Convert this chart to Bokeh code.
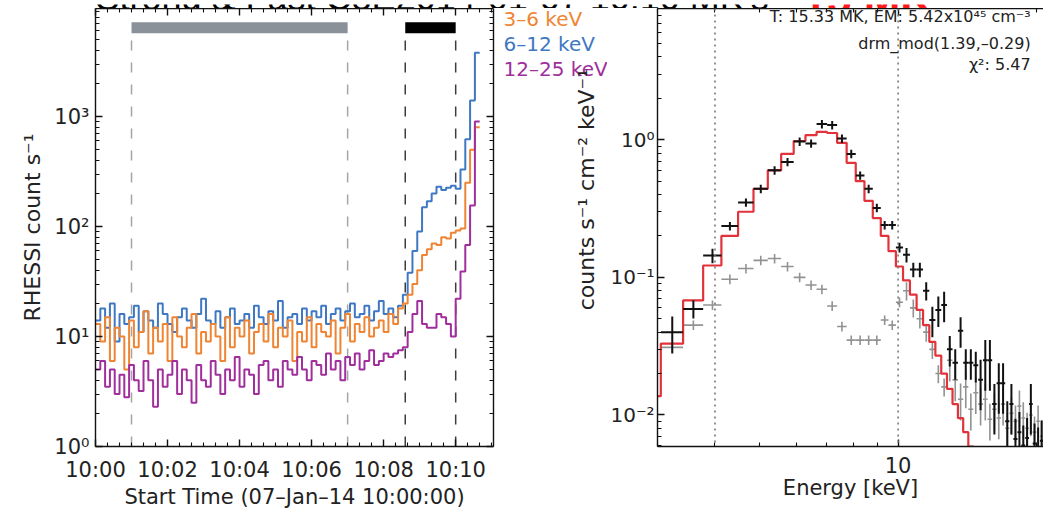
import numpy as np
from bokeh.plotting import figure
from bokeh.models import (Range1d, FixedTicker, LinearAxis, LogAxis, Span, Label,
                          CustomJSTickFormatter)
from bokeh.core.properties import value
from bokeh.layouts import row, column
from bokeh.embed import file_html
from bokeh.resources import INLINE

FONT = "DejaVu Sans"
TITLE_FONT = "Liberation Sans"

# ------------------------------------------------------------------ data: light curves
bin_seconds = 8
counts_3_6 = [13, 9, 15, 6, 12, 10, 5, 14, 8, 11, 17, 7, 12, 9, 13, 6,
              15, 10, 8, 12, 16, 7, 11, 9, 13, 10, 6, 15, 8, 12, 10, 14,
              7, 11, 13, 9, 16, 8, 12, 10, 14, 6, 11, 9, 15, 8, 13, 11,
              10, 14, 7, 12, 16, 9, 13, 11, 15, 10, 12, 14, 11, 16, 13, 18,
              20, 24, 30, 40, 55, 62, 70, 68, 80, 78, 88, 92, 96, 250, 500, 800]
counts_6_12 = [14, 18, 12, 20, 9, 16, 13, 15, 19, 11, 17, 14, 12, 20, 16, 13,
               11, 15, 18, 14, 12, 16, 22, 14, 13, 17, 12, 15, 18, 13, 14, 16,
               12, 19, 15, 13, 17, 14, 21, 12, 15, 16, 13, 18, 14, 17, 15, 19,
               13, 16, 18, 14, 17, 20, 15, 16, 19, 14, 17, 21, 16, 18, 15, 19,
               24, 38, 60, 90, 150, 170, 200, 230, 215, 225, 235, 220, 330, 620, 1400, 3800]
counts_12_25 = [5, 6, 3.5, 5, 3, 4.5, 2.8, 5.5, 4, 3.2, 6, 4, 2.3, 5, 3.5, 4.5,
                6, 3, 5, 4, 2.5, 5.5, 4, 3.5, 6, 4.5, 3, 5, 4, 6.5, 3.5, 5,
                4.5, 3, 5.5, 6, 4, 5, 3.5, 6, 5, 4.5, 6.5, 5, 4, 6, 5.5, 4.5,
                7, 5, 6, 4, 6.5, 5.5, 7, 5, 6, 7.5, 5.5, 6, 7, 6.5, 7, 7.5,
                8, 11, 16, 21, 13, 12, 12, 16, 15, 13, 10, 22, 39, 68, 155, 900]
series_names = ["3–6 keV", "6–12 keV", "12–25 keV"]
series_colors = ["#ef8432", "#3e78c2", "#a02e9c"]
time_tick_seconds = [0, 120, 240, 360, 480, 600]
time_tick_labels = ["10:00", "10:02", "10:04", "10:06", "10:08", "10:10"]
interval_start = [60, 516]
interval_end = [420, 600]
interval_colors = ["#8b9199", "#000000"]
marker_times = [60, 420, 516, 600]
marker_colors = ["#a5a5a5", "#a5a5a5", "#3c3c3c", "#3c3c3c"]

# ------------------------------------------------------------------ data: spectrum
energy_bin_start = 3.05
energy_bin_width = 0.36
obs_flux = [0.040, 0.059, 0.144, 0.236, 0.35, 0.44, 0.60, 0.69, 0.97, 0.94,
            1.30, 1.28, 1.02, 0.79, 0.55, 0.44, 0.32, 0.24, 0.24, 0.165,
            0.146, 0.114, 0.114, 0.080, 0.049, 0.058, 0.063, 0.030, 0.024, 0.041,
            0.024, 0.024, 0.023, 0.018, 0.025, 0.025, 0.012, 0.017, 0.017, 0.009,
            0.012, 0.0067, 0.0075, 0.006, 0.0068, 0.012, 0.0062, 0.0058, 0.0065]
obs_rel_err = [0.30, 0.15, 0.12, 0.07, 0.07, 0.07, 0.07, 0.07, 0.07, 0.07,
               0.07, 0.07, 0.07, 0.07, 0.07, 0.07, 0.07, 0.07, 0.07, 0.08,
               0.12, 0.12, 0.12, 0.15, 0.25, 0.25, 0.25, 0.25, 0.25, 0.25,
               0.25, 0.25, 0.25, 0.40, 0.40, 0.40, 0.40, 0.40, 0.40, 0.40,
               0.40, 0.40, 0.40, 0.40, 0.40, 0.40, 0.40, 0.40, 0.40]
bkg_flux = [0.031, 0.045, 0.063, 0.097, 0.116, 0.133, 0.137, 0.12, 0.10, 0.088,
            0.082, 0.062, 0.044, 0.035, 0.035, 0.035, 0.035, 0.049, 0.045, 0.066,
            0.080, 0.06, 0.05, 0.04, 0.03, 0.02, 0.016, 0.025, 0.018, 0.013,
            0.016, 0.011, 0.0145, 0.012, 0.013, 0.0093, 0.011, 0.0095, 0.012, 0.008,
            0.0103, 0.009, 0.0116, 0.0095, 0.008, 0.01, 0.0075, 0.009, 0.007]
bkg_rel_err = [0.08] * 20 + [0.15] * 7 + [0.30] * 22
model_first_bin = -1
model_flux = [0.0137, 0.033, 0.068, 0.122, 0.20, 0.30, 0.44, 0.60, 0.79, 0.98,
              1.08, 1.14, 1.12, 0.95, 0.68, 0.50, 0.36, 0.27, 0.20, 0.155,
              0.12, 0.095, 0.075, 0.058, 0.045, 0.034, 0.027, 0.020, 0.0155, 0.012,
              0.0095, 0.0075, 0.0059, 0.0046, 0.0036]
fit_range_keV = [4, 10]
fit_text = ["T: 15.33 MK, EM: 5.42x10⁴⁵ cm⁻³", "drm_mod(1.39,–0.29)", "χ²: 5.47"]
title_black = "Strong & Fast C8E2014-01-07 10:10 MK's"
title_red = "15 MK"
spec_ylabel = "counts s⁻¹ cm⁻² keV⁻¹"

# ------------------------------------------------------------------ helpers
SUP_JS = """
const e = Math.round(Math.log10(tick));
const sup = {'-':'\u207b','0':'\u2070','1':'\u00b9','2':'\u00b2','3':'\u00b3','4':'\u2074',
             '5':'\u2075','6':'\u2076','7':'\u2077','8':'\u2078','9':'\u2079'};
return '10' + String(e).split('').map(c => sup[c]).join('');
"""


def log_minor(lo_exp, hi_exp):
    return [m * 10.0 ** e for e in range(lo_exp, hi_exp + 1) for m in range(2, 10)]


def style_axis(ax, size="21px"):
    ax.major_tick_in = 7
    ax.major_tick_out = 0
    ax.minor_tick_in = 4
    ax.minor_tick_out = 0
    ax.axis_line_width = 1.4
    ax.major_tick_line_width = 1.4
    ax.minor_tick_line_width = 1.1
    ax.axis_line_color = "#111111"
    ax.major_tick_line_color = "#111111"
    ax.minor_tick_line_color = "#111111"
    ax.major_label_text_font = FONT
    ax.major_label_text_font_size = size
    ax.major_label_text_color = "#222222"
    ax.axis_label_text_font = FONT
    ax.axis_label_text_font_size = size
    ax.axis_label_text_font_style = "normal"
    ax.axis_label_text_color = "#222222"


def blank_axis(ax):
    style_axis(ax)
    ax.formatter = CustomJSTickFormatter(code="return '';")
    ax.major_label_text_font_size = "0px"
    ax.major_label_standoff = 0
    ax.axis_label = None


PAGE_W, PAGE_H = 1043, 511
STRIP_H = 8                 # the title strip above both panels (title mostly cut off)
H = PAGE_H - STRIP_H
TITLE_CENTER_PX = -7        # vertical centre (page px) of the title line

# ------------------------------------------------------------------ title strip
strip = figure(width=PAGE_W, height=STRIP_H, x_range=Range1d(0, PAGE_W), y_range=Range1d(0, STRIP_H),
               output_backend="svg", toolbar_location=None, min_border=0,
               x_axis_location=None, y_axis_location=None)
strip.outline_line_color = None
strip.grid.visible = False
strip.text(x=[95], y=[STRIP_H - TITLE_CENTER_PX], text=[title_black], text_color="#000000",
           text_font=value(TITLE_FONT), text_font_size="36px",
           text_align="left", text_baseline="middle")
strip.text(x=[802], y=[STRIP_H - TITLE_CENTER_PX - 1], text=[title_red], text_color="#ff1a1a",
           text_font=value(TITLE_FONT), text_font_size="44px", text_font_style="bold",
           text_align="left", text_baseline="middle")

# ------------------------------------------------------------------ left figure
L_W = 500
L_TOP, L_BOT, L_LEFT, L_RIGHT = 8, 61, 95, 7      # page px of frame top; borders
CNT_MIN, CNT_MAX = 1.0, 9600.0
T_MAX = 663.0

left = figure(width=L_W, height=H, x_range=Range1d(0, T_MAX), y_range=Range1d(CNT_MIN, CNT_MAX),
              y_axis_type="log", output_backend="svg", toolbar_location=None,
              min_border_left=L_LEFT, min_border_right=L_RIGHT, min_border_top=0,
              min_border_bottom=L_BOT)
left.outline_line_color = None
left.grid.visible = False

frame_h_left = PAGE_H - L_TOP - L_BOT


def cnt_at_px(ypx):
    lo, hi = np.log10(CNT_MIN), np.log10(CNT_MAX)
    return 10 ** (hi - (ypx - L_TOP) / frame_h_left * (hi - lo))


x_ticker = FixedTicker(ticks=time_tick_seconds,
                       minor_ticks=[s for s in range(0, 661, 20) if s % 120])
y_ticker_l = FixedTicker(ticks=[1, 10, 100, 1000], minor_ticks=log_minor(0, 3))

xa = left.xaxis[0]
xa.ticker = x_ticker
xa.major_label_overrides = {t: lab for t, lab in zip(time_tick_seconds, time_tick_labels)}
style_axis(xa)
xa.major_label_standoff = 11
xa.axis_label = "Start Time (07–Jan–14 10:00:00)"
xa.axis_label_standoff = 0

ya = left.yaxis[0]
ya.ticker = y_ticker_l
ya.formatter = CustomJSTickFormatter(code=SUP_JS)
style_axis(ya)
ya.major_label_standoff = 6
ya.axis_label = "RHESSI count s⁻¹"
ya.axis_label_text_font_size = "22px"
ya.axis_label_standoff = 6

top_l = LinearAxis(ticker=x_ticker)
blank_axis(top_l)
left.add_layout(top_l, "above")
right_l = LogAxis(ticker=y_ticker_l)
blank_axis(right_l)
left.add_layout(right_l, "right")

# dashed interval markers (start just below the interval bars)
left.segment(x0=marker_times, x1=marker_times, y0=[CNT_MIN] * len(marker_times),
             y1=[cnt_at_px(40)] * len(marker_times), line_color=marker_colors,
             line_width=1.5, line_dash="10 12")

for vals, c in zip([counts_6_12, counts_3_6, counts_12_25],
                   [series_colors[1], series_colors[0], series_colors[2]]):
    edges = [i * bin_seconds for i in range(len(vals) + 1)]
    left.step(x=edges, y=list(vals) + [vals[-1]], mode="after", line_color=c, line_width=2)

left.quad(left=interval_start, right=interval_end,
          bottom=[cnt_at_px(33)] * 2, top=[cnt_at_px(22)] * 2,
          fill_color=interval_colors, line_color=None)

# ------------------------------------------------------------------ middle strip (legend, y label)
M_X0, M_W = 500, 107
mid = figure(width=M_W, height=H, x_range=Range1d(M_X0, M_X0 + M_W), y_range=Range1d(0, H),
             output_backend="svg", toolbar_location=None, min_border=0,
             x_axis_location=None, y_axis_location=None)
mid.outline_line_color = None
mid.grid.visible = False

mid.text(x=[503] * 3, y=[PAGE_H - v for v in [20, 49, 78]], text=series_names,
         text_color=series_colors, text_font=value(FONT), text_font_size="20px",
         text_align="left", text_baseline="middle")
mid.text(x=[586], y=[PAGE_H - 216], text=[spec_ylabel], angle=np.pi / 2,
         text_color="#222222", text_font=value(FONT), text_font_size="22px",
         text_align="center", text_baseline="middle")

# ------------------------------------------------------------------ right figure
R_X0 = M_X0 + M_W
R_W = PAGE_W - R_X0
R_TOP, R_BOT, R_LEFT, R_RIGHT = 8, 60, 46, 0
E_MIN, E_MAX = 3.0, 20.7
F_MIN, F_MAX = 0.0059, 9.0
frame_w_right = R_W - R_LEFT - R_RIGHT
frame_h_right = PAGE_H - R_TOP - R_BOT

right = figure(width=R_W, height=H, x_range=Range1d(E_MIN, E_MAX), y_range=Range1d(F_MIN, F_MAX),
               x_axis_type="log", y_axis_type="log", output_backend="svg",
               toolbar_location=None, min_border_left=R_LEFT, min_border_right=R_RIGHT,
               min_border_top=0, min_border_bottom=R_BOT)
right.outline_line_color = None
right.grid.visible = False


def e_at_px(xpx):  # page x -> energy
    lo, hi = np.log10(E_MIN), np.log10(E_MAX)
    return 10 ** (lo + (xpx - (R_X0 + R_LEFT)) / frame_w_right * (hi - lo))


def flux_at_px(ypx):  # page y -> flux
    lo, hi = np.log10(F_MIN), np.log10(F_MAX)
    return 10 ** (hi - (ypx - R_TOP) / frame_h_right * (hi - lo))


ex_ticker = FixedTicker(ticks=[10], minor_ticks=[3, 4, 5, 6, 7, 8, 9, 20])
fy_ticker = FixedTicker(ticks=[0.01, 0.1, 1], minor_ticks=log_minor(-3, 0))

xb = right.xaxis[0]
xb.ticker = ex_ticker
xb.formatter = CustomJSTickFormatter(code="return tick.toFixed(0);")
style_axis(xb)
xb.major_label_standoff = 10
xb.axis_label = "Energy [keV]"
xb.axis_label_standoff = 0

yb = right.yaxis[0]
yb.ticker = fy_ticker
yb.formatter = CustomJSTickFormatter(code=SUP_JS)
style_axis(yb, size="20px")
yb.major_label_standoff = 3
yb.axis_label = None

top_r = LogAxis(ticker=ex_ticker)
blank_axis(top_r)
right.add_layout(top_r, "above")

for e in fit_range_keV:
    right.add_layout(Span(location=e, dimension="height", line_color="#777777",
                          line_width=1.6, line_dash="2 4"))

n_obs = len(obs_flux)
e_lo = [energy_bin_start + k * energy_bin_width for k in range(n_obs)]
e_hi = [v + energy_bin_width for v in e_lo]
e_mid = [v + energy_bin_width / 2 for v in e_lo]

# background (grey)
right.segment(x0=e_lo, x1=e_hi, y0=bkg_flux, y1=bkg_flux, line_color="#929292", line_width=1.6)
right.segment(x0=e_mid, x1=e_mid, y0=[f * (1 - r) for f, r in zip(bkg_flux, bkg_rel_err)],
              y1=[f * (1 + r) for f, r in zip(bkg_flux, bkg_rel_err)],
              line_color="#929292", line_width=1.6)

# model (red)
m_edges = [energy_bin_start + (model_first_bin + k) * energy_bin_width
           for k in range(len(model_flux) + 1)]
right.step(x=m_edges, y=model_flux + [model_flux[-1]], mode="after",
           line_color="#e2323a", line_width=2.2)

# observed (black)
right.segment(x0=e_lo, x1=e_hi, y0=obs_flux, y1=obs_flux, line_color="#111111", line_width=2)
right.segment(x0=e_mid, x1=e_mid, y0=[f * (1 - r) for f, r in zip(obs_flux, obs_rel_err)],
              y1=[f * (1 + r) for f, r in zip(obs_flux, obs_rel_err)],
              line_color="#111111", line_width=2)

# fit annotation
for txt, ypx in zip(fit_text, [16, 43, 65]):
    right.add_layout(Label(x=e_at_px(1030), y=flux_at_px(ypx), text=txt, text_font=FONT,
                           text_font_size="16px", text_color="#222222",
                           text_align="right", text_baseline="middle"))

layout = column(strip, row(left, mid, right))
open("out.html", "w").write(file_html(layout, INLINE))
